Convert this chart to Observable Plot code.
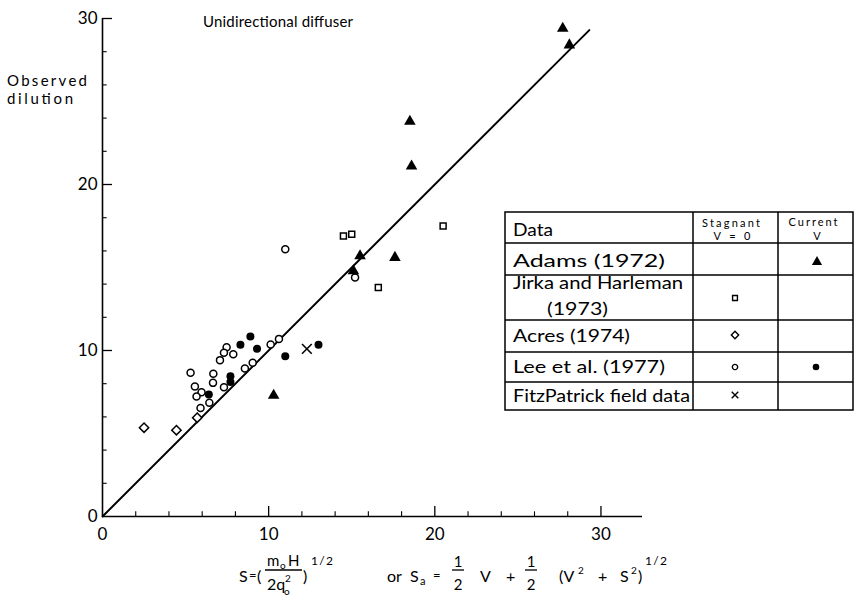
<!DOCTYPE html>
<html><head><meta charset="utf-8">
<script src="https://cdn.jsdelivr.net/npm/d3@7"></script>
<script src="https://cdn.jsdelivr.net/npm/@observablehq/plot@0.6"></script>
<style>body{margin:0;background:#fff}#chart{width:855px;height:600px}</style>
</head><body><div id="chart"></div>
<script>
// Adams (1972) – current, filled triangles
const adamsX = [10.3, 15.1, 15.5, 17.6, 18.5, 18.6, 27.7, 28.1];
const adamsY = [7.3, 14.8, 15.7, 15.6, 23.8, 21.1, 29.4, 28.4];
// Jirka and Harleman (1973) – stagnant, open squares
const jirkaX = [14.5, 15.0, 16.6, 20.5];
const jirkaY = [16.9, 17.0, 13.8, 17.5];
// Acres (1974) – stagnant, open diamonds
const acresX = [2.5, 4.45, 5.7];
const acresY = [5.35, 5.2, 5.95];
// Lee et al. (1977) – stagnant, open circles
const leeSX = [5.3, 7.47, 7.31, 7.07, 7.87, 6.67, 6.65, 5.56, 5.96, 5.66, 6.43, 5.9, 7.31, 8.57, 9.04, 10.12, 10.62, 15.2, 11.0];
const leeSY = [8.66, 10.2, 9.86, 9.42, 9.78, 8.6, 8.05, 7.83, 7.49, 7.23, 6.85, 6.53, 7.79, 8.92, 9.26, 10.36, 10.7, 14.4, 16.1];
// Lee et al. (1977) – current, filled circles
const leeCX = [8.3, 8.9, 9.3, 7.7, 7.7, 6.4, 11.0, 13.0];
const leeCY = [10.35, 10.85, 10.1, 8.45, 8.1, 7.35, 9.65, 10.35];
// FitzPatrick field data – crosses
const fitzX = [12.3];
const fitzY = [10.1];
// theory line S_obs = S
const lineX = [0, 29.3];
const lineY = [0, 29.3];
// ticks
const xMajor = [0, 10, 20, 30];
const xMinor = [2, 4, 6, 8, 12, 14, 16, 18, 22, 24, 26, 28];
const yMajor = [0, 10, 20, 30];
const yMinor = [2, 4, 6, 8, 12, 14, 16, 18, 22, 24, 26, 28];
// legend rows
const legendRows = ["Adams (1972)", "Jirka and Harleman", "Acres (1974)", "Lee et al. (1977)", "FitzPatrick field data"];

const pts = (xs, ys) => xs.map((x, i) => ({x, y: ys[i]}));
const font = "Lato, 'DejaVu Sans', sans-serif";

const svg = Plot.plot({
  width: 855, height: 600,
  marginLeft: 102, marginRight: 213, marginTop: 18, marginBottom: 84,
  x: {domain: [0, 32.5], axis: null},
  y: {domain: [0, 30], axis: null},
  style: {fontFamily: font, background: "white", color: "black", overflow: "visible"},
  marks: [
    Plot.ruleY([0], {stroke: "black", strokeWidth: 1.6}),
    Plot.ruleX([0], {stroke: "black", strokeWidth: 1.6}),
    Plot.ruleX(xMajor.slice(1), {x: d => d, y1: 0, y2: 0.6, stroke: "black", strokeWidth: 1.3}),
    Plot.ruleX(xMinor, {x: d => d, y1: 0, y2: 0.28, stroke: "black", strokeWidth: 1.1}),
    Plot.ruleY(yMajor.slice(1), {y: d => d, x1: 0, x2: 0.6, stroke: "black", strokeWidth: 1.3}),
    Plot.ruleY(yMinor, {y: d => d, x1: 0, x2: 0.28, stroke: "black", strokeWidth: 1.1}),
    Plot.text(xMajor, {x: d => d, y: 0, dy: 18, text: d => String(d), fontSize: 17, fill: "black"}),
    Plot.text(yMajor, {x: 0, y: d => d, dx: -5, textAnchor: "end", text: d => String(d), fontSize: 17, fill: "black"}),
    Plot.line(pts(lineX, lineY), {x: "x", y: "y", stroke: "black", strokeWidth: 2}),
    Plot.dot(pts(leeSX, leeSY), {x: "x", y: "y", symbol: "circle", r: 3.5, stroke: "black", strokeWidth: 1.5, fill: "white"}),
    Plot.dot(pts(leeCX, leeCY), {x: "x", y: "y", symbol: "circle", r: 4, fill: "black", stroke: "none"}),
    Plot.dot(pts(jirkaX, jirkaY), {x: "x", y: "y", symbol: "square2", r: 3.8, stroke: "black", strokeWidth: 1.5, fill: "white"}),
    Plot.dot(pts(acresX, acresY), {x: "x", y: "y", symbol: "diamond2", r: 4.2, stroke: "black", strokeWidth: 1.5, fill: "white"}),
    Plot.dot(pts(fitzX, fitzY), {x: "x", y: "y", symbol: "times", r: 4.5, stroke: "black", strokeWidth: 1.6}),
    Plot.dot(pts(adamsX, adamsY), {x: "x", y: "y", symbol: "triangle", r: 4.3, fill: "black", stroke: "none"})
  ]
});
document.getElementById("chart").appendChild(svg);

const root = d3.select(svg).append("g").attr("font-family", font).attr("fill", "black").attr("text-anchor", "start");
function txt(x, y, s, size, anchor, len, adj) {
  const t = root.append("text").attr("x", x).attr("y", y).attr("font-size", size)
    .attr("text-anchor", anchor || "start").text(s);
  if (len) t.attr("textLength", len).attr("lengthAdjust", adj || "spacing");
  return t;
}
function hline(x1, x2, y) {
  root.append("line").attr("x1", x1).attr("x2", x2).attr("y1", y).attr("y2", y)
    .attr("stroke", "black").attr("stroke-width", 1.3);
}
// title and y label
txt(203, 27, "Unidirectional diffuser", 15, "start", 150);
txt(7, 86, "Observed", 15, "start", 80);
txt(7, 104, "dilution", 15, "start", 66);

// legend table
const L = root.append("g").attr("stroke", "black").attr("stroke-width", 1.5).attr("fill", "none");
const tx0 = 505, tx1 = 693, tx2 = 778, tx3 = 853;
const hy = [212, 243, 275, 320, 352, 382, 410];
L.append("rect").attr("x", tx0).attr("y", hy[0]).attr("width", tx3 - tx0).attr("height", hy[6] - hy[0]);
hy.slice(1, 6).forEach(y => L.append("line").attr("x1", tx0).attr("x2", tx3).attr("y1", y).attr("y2", y));
[tx1, tx2].forEach(x => L.append("line").attr("x1", x).attr("x2", x).attr("y1", hy[0]).attr("y2", hy[6]));
const G = "spacingAndGlyphs";
txt(513, 236, "Data", 17, "start", 40, G);
txt(731, 227, "Stagnant", 11, "middle", 58);
txt(732, 240, "V = 0", 11, "middle", 37);
txt(813, 226, "Current", 11, "middle", 49);
txt(817, 240, "V", 11, "middle");
txt(513, 267, legendRows[0], 17, "start", 152, G);
txt(513, 289, legendRows[1], 17, "start", 170, G);
txt(547, 315, "(1973)", 17, "start", 61, G);
txt(513, 342, legendRows[2], 17, "start", 117, G);
txt(513, 373, legendRows[3], 17, "start", 152, G);
txt(513, 402, legendRows[4], 17, "start", 177, G);
// legend symbols
const sym = (type, x, y, size, filled) => root.append("path")
  .attr("d", d3.symbol(type, size)())
  .attr("transform", `translate(${x},${y})`)
  .attr("fill", filled ? "black" : "white").attr("stroke", filled ? "none" : "black").attr("stroke-width", 1.4);
sym(d3.symbolTriangle, 817, 262, 45, true);
sym(d3.symbolSquare2, 735, 298, 30, false);
sym(d3.symbolDiamond2, 735, 335, 34, false);
sym(d3.symbolCircle, 735, 367, 22, false);
sym(d3.symbolCircle, 816, 367, 34, true);
sym(d3.symbolTimes, 735, 395, 30, false);

// x-axis formula:  S = (m0 H / 2 q0^2)^1/2   or   Sa = 1/2 V + 1/2 (V^2 + S^2)^1/2
const F = 16;
txt(239, 582, "S", F);
txt(249, 580, "=", 13);
txt(257, 582, "(", F);
txt(267, 566, "m", F - 1);
txt(280, 569, "o", 10);
txt(288, 566, "H", F - 1);
hline(265, 302, 570);
txt(267, 590, "2q", F);
txt(284, 595, "o", 10);
txt(285, 582, "2", 10);
txt(303, 582, ")", F);
txt(311, 565, "1/2", 12, "start", 22);
txt(387, 582, "or", F);
txt(410, 582, "S", F);
txt(420, 585, "a", 11);
txt(433, 580, "=", 13);
function half(cx) {
  txt(cx, 567, "1", F - 1, "middle");
  hline(cx - 6, cx + 6, 570);
  txt(cx, 590, "2", F - 1, "middle");
}
half(458);
txt(480, 582, "V", F);
txt(506, 582, "+", F);
half(531);
txt(559, 582, "(V", F);
txt(578, 574, "2", 10);
txt(598, 582, "+", F);
txt(620, 582, "S", F);
txt(631, 574, "2", 10);
txt(638, 582, ")", F);
txt(645, 565, "1/2", 12, "start", 22);
</script></body></html>
